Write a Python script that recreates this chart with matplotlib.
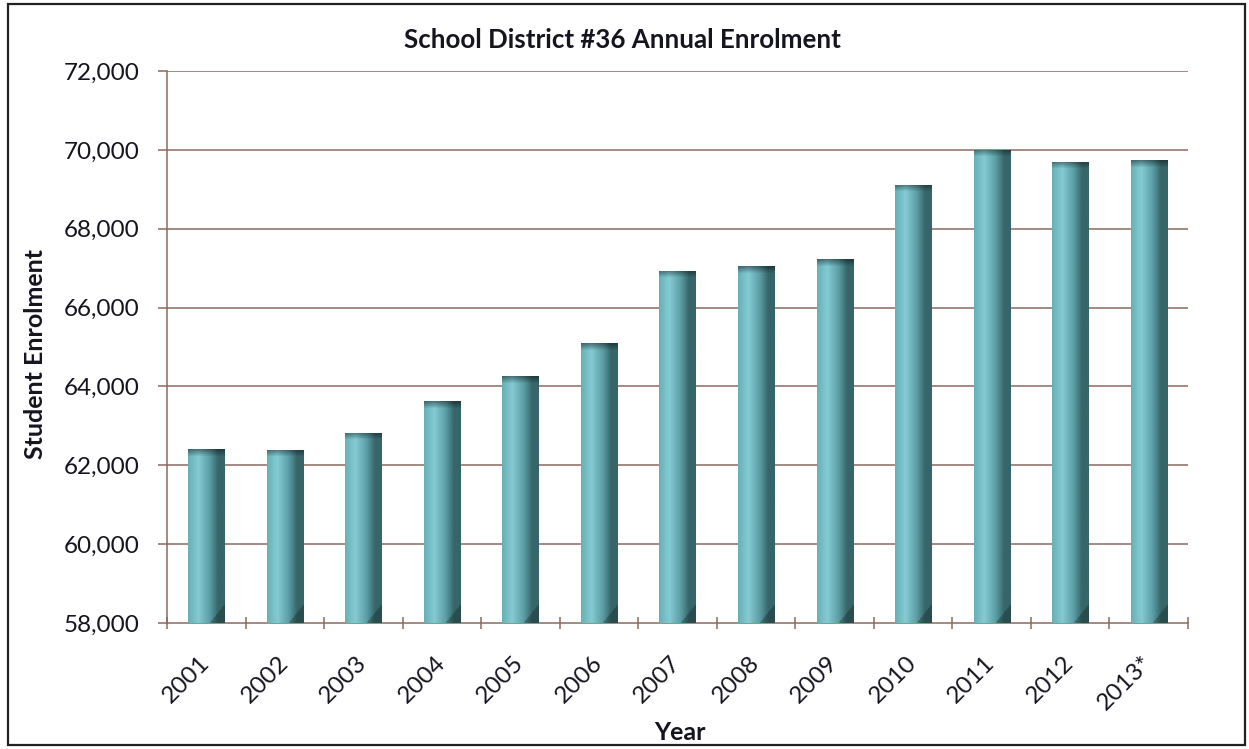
import numpy as np
import matplotlib
matplotlib.use("Agg")
import matplotlib.pyplot as plt
from matplotlib.ticker import FuncFormatter, MultipleLocator
from matplotlib.colors import to_rgb

years = ["2001", "2002", "2003", "2004", "2005", "2006", "2007",
         "2008", "2009", "2010", "2011", "2012", "2013*"]
enrolment = [62410, 62400, 62820, 63630, 64260, 65100, 66930,
             67050, 67230, 69110, 70000, 69700, 69740]

title = "School District #36 Annual Enrolment"
y_min, y_max = 58000, 72000

plt.rcParams['font.family'] = ['Lato', 'DejaVu Sans']

W, H = 1249, 749
fig = plt.figure(figsize=(W / 100, H / 100), dpi=100)
fig.patch.set_facecolor("white")

# outer chart frame
frame = plt.Rectangle((8 / W, 4 / H), 1237 / W, 741 / H, transform=fig.transFigure,
                      fill=False, edgecolor="#222222", linewidth=1.6, zorder=10)
fig.add_artist(frame)

ax = fig.add_axes([167 / W, 1 - 623 / H, (1188 - 167) / W, (623 - 71) / H])
ax.set_xlim(-0.5, len(years) - 0.5)
ax.set_ylim(y_min, y_max)

grid_col = "#8a6a60"
text_col = "#15151f"
ax.yaxis.set_major_locator(MultipleLocator(2000))
for v in np.arange(y_min + 2000, y_max + 1, 2000):
    ax.axhline(v, color=grid_col, linewidth=1.1, zorder=0)

for s in ["top", "right"]:
    ax.spines[s].set_visible(False)
ax.spines["left"].set_color(grid_col)
ax.spines["bottom"].set_color(grid_col)
ax.spines["left"].set_linewidth(1.1)
ax.spines["bottom"].set_linewidth(1.1)

x = np.arange(len(years))
bar_w = 0.46
bars = ax.bar(x, [v - y_min for v in enrolment], bottom=y_min, width=bar_w,
              color="#6fb4bc", zorder=2, linewidth=0)

# cylinder-like horizontal shading
edge = np.array(to_rgb("#68b0b8"))
light = np.array(to_rgb("#84cbd4"))
mid = np.array(to_rgb("#5a9ca3"))
dark = np.array(to_rgb("#37666a"))
nx = 60
u = np.linspace(0, 1, nx)
prof = np.empty((nx, 3))
for i, t in enumerate(u):
    if t < 0.28:
        k = t / 0.28
        prof[i] = edge * (1 - k) + light * k
    elif t < 0.6:
        k = (t - 0.28) / 0.32
        prof[i] = light * (1 - k) + mid * k
    elif t < 0.82:
        k = (t - 0.6) / 0.22
        prof[i] = mid * (1 - k) + dark * k
    else:
        prof[i] = dark

px_per_unit = (623 - 71) / (y_max - y_min)
for rect in bars:
    x0, w = rect.get_x(), rect.get_width()
    y0, h = rect.get_y(), rect.get_height()
    hpx = max(int(h * px_per_unit), 2)
    img = np.tile(prof[None, :, :], (hpx, 1, 1)).copy()
    # darker bevel across the top edge
    bev = min(7, hpx)
    for r in range(bev):
        f = 0.58 + 0.42 * r / bev
        img[r] = img[r] * f
    # shadowed corner at the lower right
    tri = min(18, hpx)
    for r in range(tri):
        row = hpx - 1 - r
        cut = int(nx * (0.6 + 0.4 * r / tri))
        img[row, cut:] = img[row, cut:] * 0.75
    im = ax.imshow(img, extent=(x0, x0 + w, y0, y0 + h), aspect="auto",
                   origin="upper", zorder=3, interpolation="bilinear")
    im.set_clip_path(rect)

ax.set_xticks(np.arange(-0.5, len(years), 1.0))
ax.set_xticklabels([])
ax.tick_params(axis="x", which="major", length=9, direction="inout",
               color=grid_col, width=1.1)
ax.set_xticks(x, minor=True)
ax.set_xticklabels(years, minor=True, rotation=45, ha="right", va="center",
                   rotation_mode="anchor", fontsize=17.5, color=text_col)
ax.tick_params(axis="x", which="minor", length=0, pad=26)

ax.yaxis.set_major_formatter(FuncFormatter(lambda v, p: f"{int(v):,}"))
ax.tick_params(axis="y", length=6.5, direction="out", color=grid_col, width=1.1,
               labelsize=17.5, labelcolor=text_col, pad=13)

fig.text(0.498, 1 - 40 / H, title, fontsize=18.6, fontweight="bold",
         ha="center", va="center", color=text_col)
ax.set_xlabel("Year", fontsize=18, fontweight="bold", color=text_col)
ax.xaxis.set_label_coords(0.502, -0.178)
ax.set_ylabel("Student Enrolment", fontsize=18, fontweight="bold", color=text_col)
ax.yaxis.set_label_coords(-0.1175, 0.487)

fig.savefig("out.png", dpi=100, facecolor="white")
